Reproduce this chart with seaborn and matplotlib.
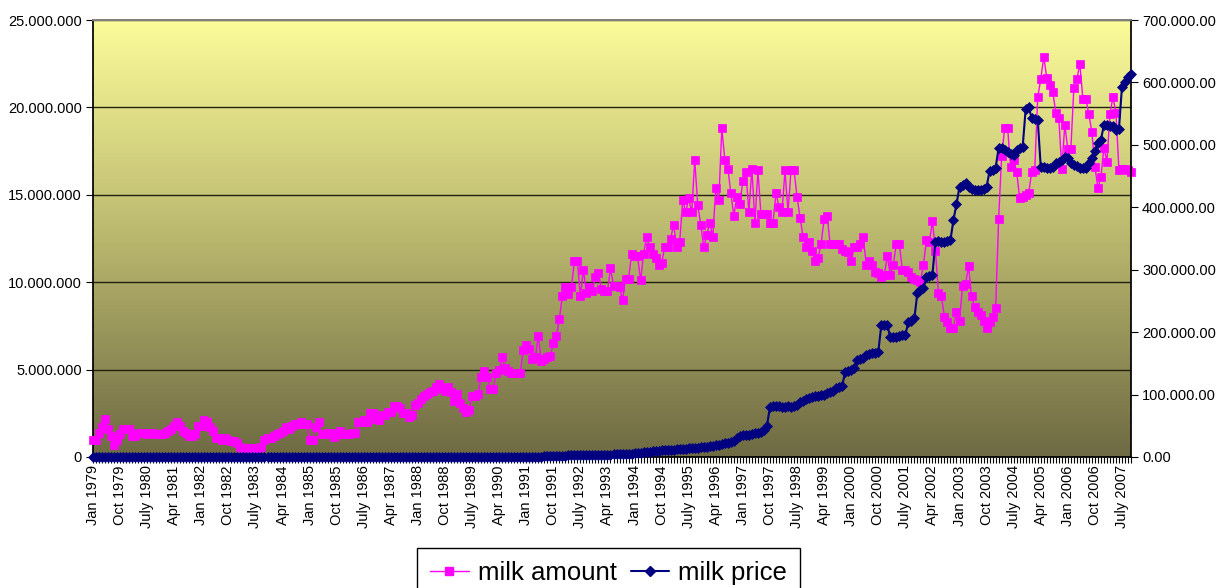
import numpy as np
import pandas as pd
import matplotlib
matplotlib.use('Agg')
import matplotlib.pyplot as plt
from matplotlib.colors import LinearSegmentedColormap
from matplotlib.ticker import FuncFormatter
from matplotlib.lines import Line2D
import seaborn as sns

# --- data: monthly values, Jan 1979 .. Oct 2007 (millions) ---
start_year = 1979
month_names = ['Jan', 'Feb', 'Mar', 'Apr', 'May', 'June',
               'July', 'Aug', 'Sept', 'Oct', 'Nov', 'Dec']

amount_1979_1989 = [
    1.0, 1.0, 1.4, 1.7, 2.2, 1.6, 1.2, 0.7, 1.0, 1.3, 1.6, 1.6,
    1.6, 1.2, 1.2, 1.4, 1.4, 1.4, 1.3, 1.4, 1.4, 1.3, 1.3, 1.3,
    1.4, 1.5, 1.6, 1.8, 2.0, 1.8, 1.5, 1.4, 1.2, 1.2, 1.3, 1.8,
    1.8, 2.1, 2.0, 1.7, 1.5, 1.1, 1.1, 1.0, 1.1, 1.0, 0.9, 0.9,
    0.8, 0.6, 0.5, 0.5, 0.5, 0.4, 0.5, 0.5, 0.6, 1.0, 1.1, 1.1,
    1.2, 1.3, 1.4, 1.5, 1.7, 1.6, 1.8, 1.9, 1.9, 2.0, 1.9, 1.9,
    1.0, 1.0, 1.7, 2.0, 1.3, 1.3, 1.4, 1.4, 1.15, 1.3, 1.5, 1.3,
    1.3, 1.3, 1.4, 1.4, 2.0, 2.0, 2.1, 2.0, 2.5, 2.5, 2.2, 2.1,
    2.4, 2.4, 2.6, 2.6, 2.9, 2.9, 2.8, 2.5, 2.5, 2.3, 2.4, 3.0,
    3.1, 3.3, 3.5, 3.6, 3.7, 3.8, 4.0, 4.2, 3.9, 3.8, 4.0, 3.7,
    3.2, 3.6, 3.1, 2.8, 2.6, 2.7, 3.5, 3.5, 3.6, 4.6, 4.9, 4.6,
]
amount_1990_1999 = [
    3.9, 3.9, 4.8, 5.0, 5.7, 5.1, 4.9, 4.8, 4.8, 4.8, 4.8, 6.1,
    6.4, 6.2, 5.6, 5.7, 6.9, 5.5, 5.6, 5.7, 5.8, 6.5, 6.9, 7.9,
    9.2, 9.7, 9.3, 9.7, 11.2, 11.2, 9.2, 10.7, 9.4, 9.7, 9.5, 10.3,
    10.5, 9.6, 9.5, 9.5, 10.8, 9.8, 9.8, 9.7, 9.0, 10.2, 10.2, 11.6,
    11.5, 11.5, 10.1, 11.6, 12.6, 12.0, 11.6, 11.4, 11.0, 11.1, 12.0, 12.0,
    12.5, 13.3, 12.0, 12.3, 14.7, 14.0, 14.8, 14.0, 17.0, 14.4, 13.3, 12.0,
    12.7, 13.4, 12.6, 15.4, 14.7, 18.8, 17.0, 16.5, 15.1, 13.8, 14.9, 14.5,
    15.8, 16.3, 14.0, 16.5, 13.4, 16.4, 13.9, 13.9, 13.9, 13.4, 13.4, 15.1,
    14.3, 14.0, 16.4, 14.0, 16.4, 16.4, 14.9, 13.7, 12.6, 12.0, 12.3, 11.8,
    11.2, 11.4, 12.2, 13.6, 13.8, 12.2, 12.2, 12.2, 12.2, 11.9, 11.8, 11.7,
]
amount_2000_2007 = [
    11.2, 12.0, 12.0, 12.2, 12.6, 11.0, 11.2, 11.0, 10.6, 10.5, 10.3, 10.4,
    11.5, 10.4, 11.0, 12.2, 12.2, 10.7, 10.7, 10.6, 10.3, 10.2, 10.1, 10.0,
    11.0, 12.4, 12.3, 13.5, 11.8, 9.4, 9.2, 8.0, 7.7, 7.4, 7.4, 8.3,
    7.8, 9.8, 9.9, 10.9, 9.2, 8.6, 8.3, 8.1, 7.8, 7.4, 7.7, 8.0,
    8.5, 13.6, 17.2, 18.8, 18.8, 16.6, 17.0, 16.3, 14.8, 14.9, 15.0, 15.1,
    16.3, 16.4, 20.6, 21.6, 22.9, 21.7, 21.3, 20.9, 19.7, 19.4, 16.5, 19.0,
    17.6, 17.6, 21.1, 21.6, 22.5, 20.5, 20.5, 19.6, 18.6, 16.6, 15.4, 16.0,
    17.7, 16.9, 19.6, 20.6, 19.7, 16.4, 16.5, 16.5, 16.4, 16.3,
]

price_1979_1989 = [
    0.1, 0.1, 0.1, 0.1, 0.1, 0.1, 0.1, 0.1, 0.1, 0.1, 0.1, 0.1,
    0.1, 0.1, 0.1, 0.1, 0.1, 0.1, 0.1, 0.1, 0.1, 0.1, 0.1, 0.1,
    0.1, 0.1, 0.1, 0.1, 0.1, 0.1, 0.1, 0.1, 0.1, 0.1, 0.1, 0.1,
    0.1, 0.1, 0.1, 0.1, 0.1, 0.1, 0.1, 0.1, 0.1, 0.1, 0.1, 0.1,
    0.1, 0.1, 0.1, 0.1, 0.1, 0.1, 0.1, 0.1, 0.1, 0.1, 0.1, 0.1,
    0.1, 0.1, 0.1, 0.1, 0.1, 0.1, 0.1, 0.1, 0.1, 0.1, 0.1, 0.1,
    0.2, 0.2, 0.2, 0.2, 0.2, 0.2, 0.2, 0.2, 0.2, 0.2, 0.2, 0.2,
    0.2, 0.2, 0.2, 0.2, 0.2, 0.2, 0.2, 0.2, 0.2, 0.2, 0.2, 0.2,
    0.2, 0.2, 0.2, 0.2, 0.2, 0.2, 0.2, 0.2, 0.2, 0.2, 0.2, 0.2,
    0.3, 0.3, 0.3, 0.3, 0.3, 0.3, 0.3, 0.3, 0.3, 0.3, 0.3, 0.3,
    0.3, 0.3, 0.3, 0.3, 0.3, 0.3, 0.3, 0.3, 0.3, 0.3, 0.3, 0.3,
]
price_1990_1999 = [
    0.4, 0.4, 0.4, 0.4, 0.4, 0.4, 0.4, 0.4, 0.4, 0.4, 0.4, 0.4,
    0.5, 0.5, 0.6, 0.6, 0.7, 0.8, 1.0, 1.2, 1.5, 2.0, 2.0, 2.2,
    2.3, 2.4, 2.5, 2.6, 2.7, 2.8, 2.9, 3.0, 3.0, 3.1, 3.2, 3.3,
    3.4, 3.5, 3.6, 3.8, 4.0, 4.2, 4.4, 4.6, 4.8, 5.0, 5.3, 5.6,
    6.0, 6.5, 7.0, 8.0, 8.0, 8.5, 9.0, 9.5, 10.0, 11.0, 11.0, 11.5,
    12.0, 12.0, 12.5, 13.0, 13.0, 13.5, 14.0, 14.5, 14.0, 15.0, 16.0, 16.0,
    16.0, 17.0, 18.0, 19.0, 20.0, 21.0, 22.0, 23.0, 24.0, 26.0, 30.0, 33.0,
    35.0, 36.0, 36.0, 37.0, 38.0, 38.0, 40.0, 44.0, 50.0, 80.0, 82.0, 82.0,
    81.0, 80.0, 80.0, 81.0, 80.0, 82.0, 84.0, 88.0, 90.0, 93.0, 95.0, 96.0,
    97.0, 98.0, 99.0, 100.0, 103.0, 104.0, 106.0, 110.0, 112.0, 114.0, 136.0, 138.0,
]
price_2000_2007 = [
    140, 142, 155, 157, 158, 163, 165, 166, 167, 168, 211, 212,
    211, 192, 193, 193, 194, 195, 196, 216, 218, 222, 263, 268,
    270, 288, 290, 292, 345, 346, 345, 345, 346, 348, 380, 405,
    433, 436, 439, 433, 430, 428, 428, 428, 430, 433, 458, 460,
    463, 495, 495, 492, 489, 486, 484, 492, 495, 497, 558, 560,
    543, 541, 540, 465, 464, 463, 463, 465, 471, 473, 476, 481,
    479, 471, 468, 466, 463, 463, 463, 471, 479, 490, 503, 508,
    532, 532, 530, 530, 524, 526, 593, 601, 608, 614,
]

amount = amount_1979_1989 + amount_1990_1999 + amount_2000_2007
price = price_1979_1989 + price_1990_1999 + price_2000_2007
n_months = len(amount)
month_labels = [f"{month_names[i % 12]} {start_year + i // 12}"
                for i in range(n_months)]

df = pd.DataFrame({'month': np.arange(n_months),
                   'amount': amount, 'price': price})

# --- style ---
sns.set_theme(style='ticks', rc={
    'xtick.color': 'black', 'ytick.color': 'black',
    'axes.edgecolor': 'black', 'text.color': 'black',
})
plt.rcParams['font.family'] = ['Liberation Sans', 'DejaVu Sans']

amount_color = '#FF00FF'
price_color = '#000080'

W, H = 1221, 588
fig = plt.figure(figsize=(W / 100, H / 100), dpi=100)
ax = fig.add_axes([93 / W, 1 - 457 / H, (1131 - 93) / W, (457 - 20) / H])

# gradient plot area (yellow -> olive)
bg = LinearSegmentedColormap.from_list('bg', ['#6E6A43', '#B9B76E', '#FCFC9A'])
ax.imshow(np.linspace(0, 1, 256).reshape(-1, 1), cmap=bg, origin='lower',
          extent=[0, n_months - 1, 0, 25], aspect='auto', zorder=0)
ax.set_axisbelow(True)
ax.yaxis.grid(True, color='#222211', linewidth=1.0)

sns.lineplot(data=df, x='month', y='amount', ax=ax, color=amount_color,
             marker='s', markersize=5.5, markeredgecolor=amount_color,
             markeredgewidth=0.5, linewidth=1.0, errorbar=None,
             clip_on=False, zorder=3)

ax2 = ax.twinx()
sns.lineplot(data=df, x='month', y='price', ax=ax2, color=price_color,
             marker='D', markersize=4.8, markeredgecolor=price_color,
             markeredgewidth=0.5, linewidth=1.5, errorbar=None,
             clip_on=False, zorder=3)

ax.set_xlim(0, n_months - 1)
ax.set_ylim(0, 25)
ax2.set_ylim(0, 700)
ax.set_yticks(np.arange(0, 26, 5))
ax2.set_yticks(np.arange(0, 701, 100))

ax.yaxis.set_major_formatter(FuncFormatter(
    lambda v, _: '0' if v == 0 else f"{v * 1e6:,.0f}".replace(',', '.')))
ax2.yaxis.set_major_formatter(FuncFormatter(
    lambda v, _: '0.00' if v == 0 else f"{int(v)}.000.00"))

ax.set_xticks(np.arange(0, n_months, 9))
ax.set_xticklabels(month_labels[::9], rotation=90)
ax.set_xticks(np.arange(n_months), minor=True)
ax.tick_params(axis='x', which='both', direction='out', length=4,
               width=0.8, labelsize=10.5, pad=2)
ax.tick_params(axis='y', direction='out', length=5, width=0.8,
               labelsize=10.5, pad=3)
ax2.tick_params(axis='y', direction='out', length=5, width=0.8,
                labelsize=10.5, pad=3)

ax.set_xlabel('')
ax.set_ylabel('')
ax2.set_ylabel('')

for a in (ax, ax2):
    a.spines['top'].set_color('#808080')
ax.spines['right'].set_visible(False)
for s in ('left', 'bottom'):
    ax2.spines[s].set_visible(False)
ax2.spines['right'].set_color('black')

handles = [
    Line2D([0], [0], color=amount_color, marker='s', markersize=5.5,
           linewidth=1.0, label='milk amount'),
    Line2D([0], [0], color=price_color, marker='D', markersize=4.8,
           linewidth=1.5, label='milk price'),
]
leg = fig.legend(handles=handles, loc='upper center',
                 bbox_to_anchor=(0.4985, 1 - 548 / H), borderaxespad=0,
                 ncol=2, fontsize=18.5, frameon=True, fancybox=False,
                 edgecolor='black', framealpha=1, handlelength=1.5,
                 handletextpad=0.35, columnspacing=0.55, borderpad=0.5)
leg.get_frame().set_linewidth(1.0)

fig.savefig('out.png', dpi=100)
